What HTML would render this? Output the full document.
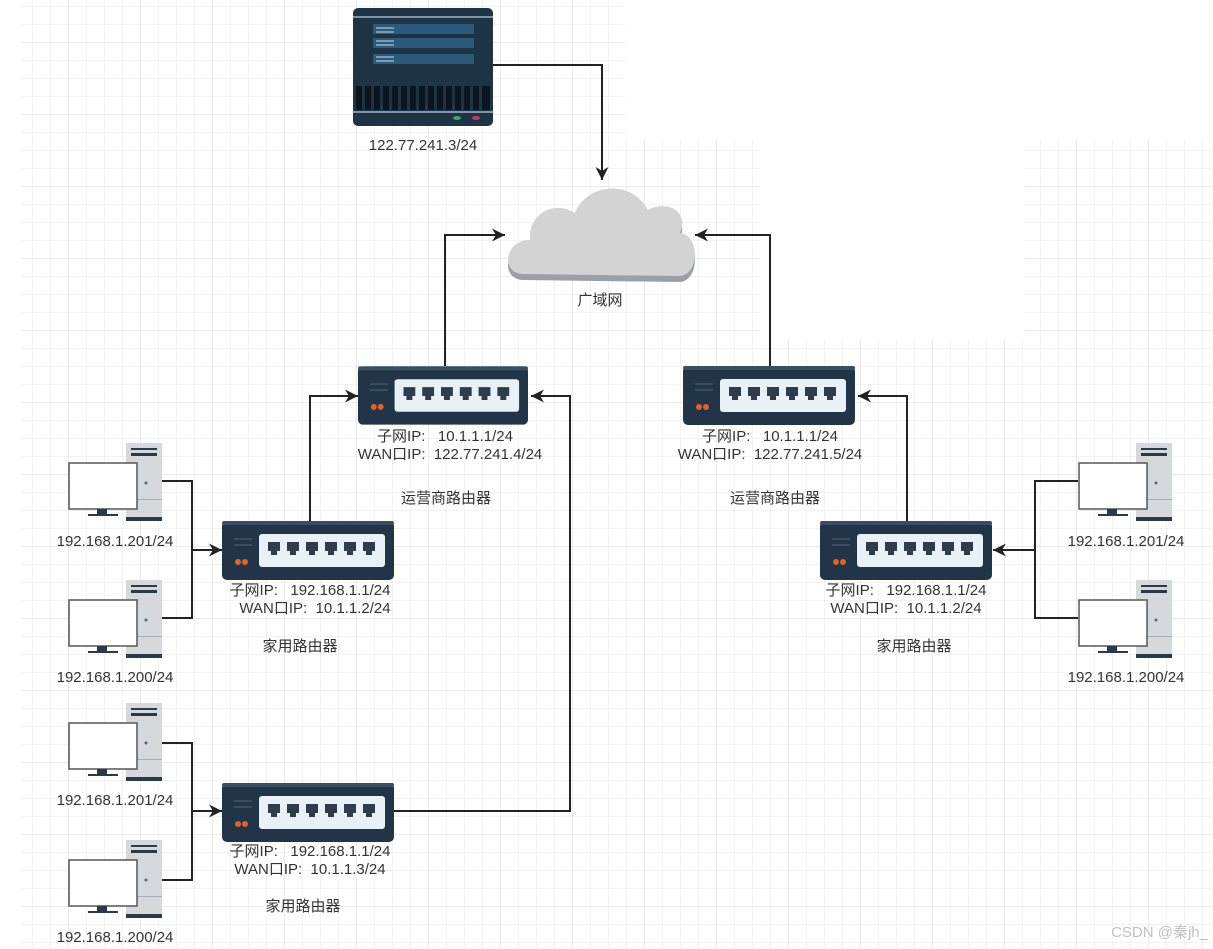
<!DOCTYPE html>
<html><head><meta charset="utf-8"><style>
html,body{margin:0;padding:0;background:#fff;}
svg{display:block;}
text{font-family:"Liberation Sans","Noto Sans CJK SC",sans-serif;fill:#333;font-size:15px;white-space:pre;}
</style></head><body>
<svg width="1213" height="949" viewBox="0 0 1213 949" xmlns="http://www.w3.org/2000/svg">
<defs>
<pattern id="g" x="14" y="6" width="18" height="18" patternUnits="userSpaceOnUse">
<path d="M0 0V18M0 0H18" stroke="#e6e6e6" stroke-width="1" fill="none"/>
</pattern>
<pattern id="G" x="68" y="42" width="72" height="72" patternUnits="userSpaceOnUse">
<path d="M0 0V72M0 0H72" stroke="#d9d9d9" stroke-width="1" fill="none"/>
</pattern>
<marker id="a" viewBox="0 0 10 10" refX="10" refY="5" markerWidth="8" markerHeight="8" markerUnits="userSpaceOnUse" orient="auto"><path d="M0 0L10 5L0 10L3 5z" fill="#222"/></marker>
<marker id="b" viewBox="0 0 10 10" refX="10" refY="5" markerWidth="13" markerHeight="13" markerUnits="userSpaceOnUse" orient="auto"><path d="M0 0L10 5L0 10L3 5z" fill="#222"/></marker>
<symbol id="router" viewBox="0 0 172 59">
<rect x="0" y="0" width="172" height="59" rx="5" fill="#223447"/>
<rect x="0" y="0" width="172" height="4" rx="2" fill="#3a4e63"/>
<rect x="12" y="17" width="18" height="2" fill="#3a4e63"/><rect x="12" y="23" width="18" height="2" fill="#3a4e63"/>
<circle cx="16" cy="41" r="3" fill="#e0622c"/><circle cx="23" cy="41" r="3" fill="#e0622c"/>
<rect x="37" y="13" width="126" height="33" rx="3" fill="#e8f1f8"/>
<g fill="#2f3d4b">
<path d="M46 21h12v9h-3v4h-6v-4h-3z"/><path d="M65 21h12v9h-3v4h-6v-4h-3z"/><path d="M84 21h12v9h-3v4h-6v-4h-3z"/><path d="M103 21h12v9h-3v4h-6v-4h-3z"/><path d="M122 21h12v9h-3v4h-6v-4h-3z"/><path d="M141 21h12v9h-3v4h-6v-4h-3z"/>
</g>
</symbol>
<symbol id="pc" viewBox="0 0 94 78">
<rect x="58" y="0" width="36" height="78" fill="#d6d9dc"/>
<rect x="58" y="74" width="36" height="4" fill="#2a3a4a"/>
<rect x="63" y="5" width="26" height="2" fill="#2a3a4a"/><rect x="63" y="10" width="26" height="3" fill="#2a3a4a"/>
<circle cx="78" cy="40" r="1.5" fill="#4a6a9a"/>
<rect x="58" y="56" width="36" height="1" fill="#aab"/>
<rect x="1" y="20" width="68" height="46" fill="#fff" stroke="#555" stroke-width="1.5"/>
<rect x="29" y="66" width="10" height="5" fill="#2a3a4a"/><rect x="20" y="71" width="30" height="2" fill="#2a3a4a"/>
</symbol>
</defs>
<rect x="21" y="0" width="1192" height="949" fill="url(#g)"/>
<rect x="21" y="0" width="1192" height="949" fill="url(#G)"/>
<rect x="625" y="0" width="588" height="140" fill="#fff"/>
<rect x="760" y="140" width="265" height="200" fill="#fff"/>

<!-- server -->
<rect x="353" y="8" width="140" height="118" rx="5" fill="#1e3344"/>
<rect x="353" y="16" width="140" height="2" fill="#7f94a5"/>
<rect x="373" y="24" width="101" height="42" fill="#1e3344"/>
<g fill="#2a5a7c"><rect x="373" y="24" width="101" height="10"/><rect x="373" y="38" width="101" height="10"/><rect x="373" y="54" width="101" height="10"/></g>
<g stroke="#c8dcec" stroke-width="1"><path d="M376 28h18M376 32h18M376 41h18M376 45h18M376 57h18M376 61h18"/></g>
<g fill="#0a1520"><rect x="356" y="86" width="134" height="24"/></g>
<g fill="#1e3344"><rect x="362" y="86" width="3" height="24"/><rect x="371" y="86" width="3" height="24"/><rect x="380" y="86" width="3" height="24"/><rect x="389" y="86" width="3" height="24"/><rect x="398" y="86" width="3" height="24"/><rect x="407" y="86" width="3" height="24"/><rect x="416" y="86" width="3" height="24"/><rect x="425" y="86" width="3" height="24"/><rect x="434" y="86" width="3" height="24"/><rect x="443" y="86" width="3" height="24"/><rect x="452" y="86" width="3" height="24"/><rect x="461" y="86" width="3" height="24"/><rect x="470" y="86" width="3" height="24"/><rect x="479" y="86" width="3" height="24"/></g>
<rect x="353" y="111" width="140" height="2" fill="#7f94a5"/>
<ellipse cx="457" cy="118" rx="4" ry="2" fill="#3aa77a"/><ellipse cx="476" cy="118" rx="4" ry="2" fill="#c23a6a"/>
<text x="423" y="150" text-anchor="middle" font-size="16">122.77.241.3/24</text>

<!-- cloud -->
<path d="M522 280 C500 278 505 245 530 245 C528 218 555 205 575 218 C585 190 630 182 648 215 C665 205 690 215 680 238 C700 240 700 280 680 282 Z" fill="#9aa0a4"/>
<path d="M522 274 C500 272 505 240 530 240 C528 213 555 200 575 213 C585 185 630 177 648 210 C665 200 690 210 680 233 C700 235 700 274 680 276 Z" fill="#d3d3d3"/>
<text x="600" y="305" text-anchor="middle">广域网</text>

<g stroke="#222" stroke-width="2" fill="none" marker-end="url(#b)">
<path d="M493 65H602V180"/>
<path d="M445 366V235H505"/>
<path d="M770 366V235H695"/>
<path d="M310 521V396H358"/>
<path d="M394 811H570V396H531"/>
<path d="M907 521V396H858"/>
<path d="M192 550H222"/>
<path d="M192 811H222"/>
<path d="M1035 550H993"/>
</g>
<g stroke="#222" stroke-width="2" fill="none">
<path d="M162 481H192V618H162"/>
<path d="M162 743H192V880H162"/>
<path d="M1078 481H1035V618H1078"/>
</g>

<use href="#router" x="358" y="366" width="170" height="59"/>
<use href="#router" x="683" y="366" width="172" height="59"/>
<use href="#router" x="222" y="521" width="172" height="59"/>
<use href="#router" x="820" y="521" width="172" height="59"/>
<use href="#router" x="222" y="783" width="172" height="59"/>

<use href="#pc" x="68" y="443" width="94" height="78"/>
<use href="#pc" x="68" y="580" width="94" height="78"/>
<use href="#pc" x="68" y="703" width="94" height="78"/>
<use href="#pc" x="68" y="840" width="94" height="78"/>
<use href="#pc" x="1078" y="443" width="94" height="78"/>
<use href="#pc" x="1078" y="580" width="94" height="78"/>

<g text-anchor="middle" font-size="16">
<text x="445" y="441">子网IP:   10.1.1.1/24</text>
<text x="450" y="459">WAN口IP:  122.77.241.4/24</text>
<text x="446" y="503">运营商路由器</text>
<text x="770" y="441">子网IP:   10.1.1.1/24</text>
<text x="770" y="459">WAN口IP:  122.77.241.5/24</text>
<text x="775" y="503">运营商路由器</text>
<text x="310" y="595">子网IP:   192.168.1.1/24</text>
<text x="315" y="613">WAN口IP:  10.1.1.2/24</text>
<text x="300" y="651">家用路由器</text>
<text x="906" y="595">子网IP:   192.168.1.1/24</text>
<text x="906" y="613">WAN口IP:  10.1.1.2/24</text>
<text x="914" y="651">家用路由器</text>
<text x="310" y="856">子网IP:   192.168.1.1/24</text>
<text x="310" y="874">WAN口IP:  10.1.1.3/24</text>
<text x="303" y="911">家用路由器</text>
<text x="115" y="546">192.168.1.201/24</text>
<text x="115" y="682">192.168.1.200/24</text>
<text x="115" y="805">192.168.1.201/24</text>
<text x="115" y="942">192.168.1.200/24</text>
<text x="1126" y="546">192.168.1.201/24</text>
<text x="1126" y="682">192.168.1.200/24</text>
</g>
<text x="1208" y="937" text-anchor="end" font-size="18" style="fill:#c0c0c0">CSDN @秦jh_</text>
</svg>
</body></html>
